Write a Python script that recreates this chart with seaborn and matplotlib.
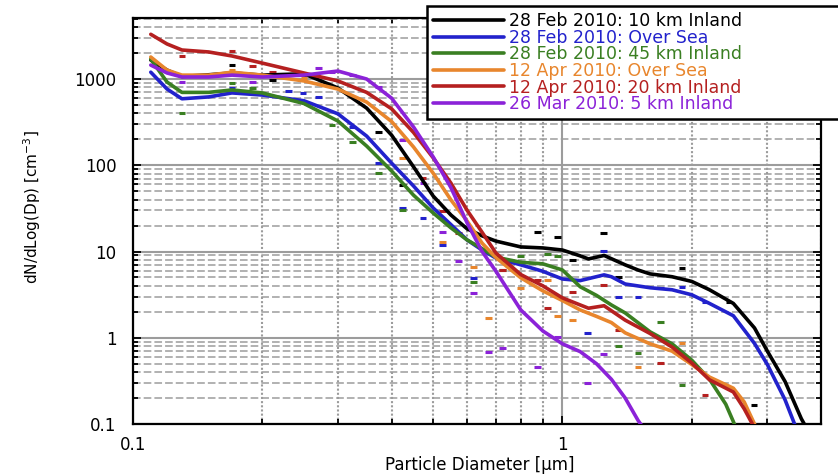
import numpy as np
import pandas as pd
import matplotlib
matplotlib.use("Agg")
import matplotlib.pyplot as plt
from matplotlib.lines import Line2D
from matplotlib.ticker import LogLocator, FixedLocator, FuncFormatter, NullFormatter
import seaborn as sns

# ---------------- data ----------------
labels = ["28 Feb 2010: 10 km Inland", "28 Feb 2010: Over Sea", "28 Feb 2010: 45 km Inland",
          "12 Apr 2010: Over Sea", "12 Apr 2010: 20 km Inland", "26 Mar 2010: 5 km Inland"]
colors = ["#000000", "#2222cc", "#3a7f22", "#e8862d", "#b52020", "#8b22d8"]

# smoothed curves (particle diameter in um, dN/dlogDp in cm^-3)
black_dp = [0.11, 0.12, 0.13, 0.15, 0.17, 0.2, 0.25, 0.3, 0.35, 0.4, 0.45, 0.5, 0.55, 0.6, 0.65, 0.7, 0.8, 0.9, 1.0,
            1.1, 1.15, 1.25, 1.4, 1.5, 1.6, 1.8, 2.0, 2.2, 2.5, 2.8, 3.0, 3.3, 3.6, 3.75]
black_dn = [1660, 1270, 1070, 1120, 1175, 1110, 1150, 787, 460, 224, 96, 44, 26.5, 18.3, 15.2, 13.2, 11.3, 11.0, 10.4,
            8.9, 8.2, 9.0, 7.0, 6.1, 5.5, 5.1, 4.5, 3.6, 2.5, 1.3, 0.70, 0.31, 0.115, 0.08]

blue_dp = [0.11, 0.12, 0.13, 0.15, 0.17, 0.2, 0.25, 0.3, 0.35, 0.4, 0.45, 0.5, 0.55, 0.6, 0.65, 0.7, 0.8, 0.9, 1.0,
           1.1, 1.25, 1.3, 1.4, 1.6, 1.8, 2.0, 2.2, 2.5, 2.8, 3.0, 3.3, 3.5]
blue_dn = [1200, 766, 590, 620, 690, 652, 560, 395, 218, 106, 57.5, 32, 20.5, 13.6, 10.4, 8.4, 7.0, 5.9, 4.8,
           4.6, 5.36, 5.1, 4.2, 3.8, 3.6, 3.15, 2.5, 1.8, 0.86, 0.49, 0.19, 0.09]

green_dp = [0.11, 0.12, 0.13, 0.15, 0.17, 0.2, 0.25, 0.3, 0.35, 0.4, 0.45, 0.5, 0.55, 0.6, 0.65, 0.7, 0.8, 0.9, 1.0,
            1.1, 1.2, 1.3, 1.4, 1.6, 1.8, 2.0, 2.2, 2.4, 2.55]
green_dn = [1700, 923, 700, 700, 747, 690, 520, 326, 167, 86, 45, 28, 18.8, 13.6, 10.8, 8.6, 7.5, 7.2, 6.1,
            3.9, 3.1, 2.4, 1.94, 1.17, 0.85, 0.55, 0.33, 0.17, 0.085]

orange_dp = [0.11, 0.12, 0.13, 0.15, 0.17, 0.2, 0.25, 0.3, 0.35, 0.4, 0.45, 0.5, 0.55, 0.6, 0.65, 0.7, 0.8, 0.9, 1.0,
             1.1, 1.2, 1.3, 1.4, 1.6, 1.8, 2.0, 2.2, 2.5, 2.65, 2.8, 2.9]
orange_dn = [1800, 1270, 1110, 1110, 1200, 1110, 950, 765, 540, 322, 163, 81, 39.6, 22.5, 12.5, 8.5, 4.95, 3.5, 2.7,
             2.1, 1.77, 1.5, 1.14, 0.85, 0.70, 0.49, 0.35, 0.26, 0.18, 0.1, 0.075]

red_dp = [0.11, 0.12, 0.13, 0.15, 0.17, 0.2, 0.25, 0.3, 0.35, 0.4, 0.45, 0.5, 0.55, 0.6, 0.65, 0.7, 0.8, 0.9, 1.0,
          1.1, 1.15, 1.25, 1.4, 1.6, 1.8, 2.0, 2.2, 2.5, 2.65, 2.8]
red_dn = [3300, 2550, 2170, 2060, 1850, 1530, 1175, 950, 700, 452, 240, 122, 62, 30, 16.7, 9.6, 5.4, 4.0, 2.9,
          2.4, 2.2, 2.35, 1.6, 1.12, 0.78, 0.51, 0.325, 0.235, 0.15, 0.09]

purple_dp = [0.11, 0.12, 0.13, 0.15, 0.17, 0.2, 0.25, 0.3, 0.35, 0.4, 0.45, 0.5, 0.55, 0.6, 0.65, 0.7, 0.8, 0.9, 1.0,
             1.1, 1.2, 1.3, 1.4, 1.5, 1.6]
purple_dn = [1450, 1175, 1055, 1055, 1110, 1055, 1110, 1238, 1000, 600, 278, 125, 55, 21.4, 10, 5.9, 2.1, 1.2, 0.85,
             0.69, 0.50, 0.33, 0.2, 0.11, 0.07]

# raw measured points
black_pts_dp = [0.17, 0.211, 0.249, 0.373, 0.424, 0.874, 0.973, 1.055, 1.246, 1.35, 1.9, 2.44, 2.79]
black_pts_dn = [1452, 973, 1112, 243, 59, 16.9, 14.8, 8.0, 16.4, 5.08, 6.46, 2.61, 0.167]
blue_pts_dp = [0.17, 0.23, 0.249, 0.27, 0.324, 0.373, 0.424, 0.474, 0.525, 0.62, 1.144, 1.246, 1.35, 1.5, 1.69, 1.9, 2.15]
blue_pts_dn = [786, 732, 689, 618, 278, 106, 32, 24.5, 11.9, 4.95, 1.14, 10.2, 2.97, 2.97, 3.79, 3.9, 2.61]
green_pts_dp = [0.13, 0.17, 0.19, 0.291, 0.324, 0.373, 0.424, 0.62, 0.725, 0.798, 0.923, 0.973, 1.35, 1.5, 1.69, 1.9]
green_pts_dn = [403, 899, 786, 293, 186, 81, 30.4, 4.44, 6.1, 8.9, 9.4, 8.9, 0.805, 0.668, 1.53, 0.284]
orange_pts_dp = [0.17, 0.25, 0.424, 0.525, 0.62, 0.672, 0.798, 0.923, 0.973, 1.055, 1.5, 1.9]
orange_pts_dn = [1271, 1027, 121, 12.9, 6.6, 1.70, 3.79, 4.69, 1.79, 1.61, 0.46, 0.87]
red_pts_dp = [0.13, 0.17, 0.19, 0.211, 0.474, 0.525, 0.572, 0.725, 0.874, 0.923, 1.055, 1.246, 1.35, 1.69, 2.15]
red_pts_dn = [1862, 2111, 1415, 1215, 71, 29.5, 16.4, 6.1, 4.69, 2.22, 3.4, 4.1, 1.23, 0.511, 0.218]
purple_pts_dp = [0.13, 0.19, 0.27, 0.291, 0.324, 0.373, 0.424, 0.474, 0.525, 0.572, 0.62, 0.672, 0.725, 0.874,
                 0.973, 1.144, 1.246]
purple_pts_dn = [923, 923, 1342, 1205, 1112, 808, 196, 62, 16.9, 7.8, 3.31, 0.687, 0.763, 0.46, 1.02, 0.30, 0.65]

x_ticks = [0.1, 1]
y_ticks = [0.1, 1, 10, 100, 1000]

curve_x = [black_dp, blue_dp, green_dp, orange_dp, red_dp, purple_dp]
curve_y = [black_dn, blue_dn, green_dn, orange_dn, red_dn, purple_dn]
pts_x = [black_pts_dp, blue_pts_dp, green_pts_dp, orange_pts_dp, red_pts_dp, purple_pts_dp]
pts_y = [black_pts_dn, blue_pts_dn, green_pts_dn, orange_pts_dn, red_pts_dn, purple_pts_dn]

curves = pd.concat([pd.DataFrame({"Dp": x, "dN": y, "series": lab})
                    for x, y, lab in zip(curve_x, curve_y, labels)], ignore_index=True)
dots = pd.concat([pd.DataFrame({"Dp": x, "dN": y, "series": lab})
                  for x, y, lab in zip(pts_x, pts_y, labels)], ignore_index=True)

# ---------------- style ----------------
sns.set_theme(style="ticks")
plt.rcParams["font.family"] = ["DejaVu Sans"]

fig = plt.figure(figsize=(8.38, 4.75), dpi=100)
fig.patch.set_facecolor("white")
ax = fig.add_axes([133 / 838, 51 / 475, 688 / 838, 406 / 475])
ax.set_xscale("log")
ax.set_yscale("log")

palette = dict(zip(labels, colors))
sns.scatterplot(data=dots, x="Dp", y="dN", hue="series", hue_order=labels, palette=palette,
                marker="_", s=22, linewidth=2.2, legend=False, ax=ax, zorder=3)
sns.lineplot(data=curves, x="Dp", y="dN", hue="series", hue_order=labels, palette=palette,
             estimator=None, sort=False, lw=2.6, legend=False, ax=ax, zorder=4)

ax.set_xlim(0.1, 4.0)
ax.set_ylim(0.1, 5100)

ax.xaxis.set_major_locator(FixedLocator(x_ticks))
ax.xaxis.set_minor_locator(LogLocator(base=10, subs=np.arange(2, 10), numticks=20))
ax.yaxis.set_major_locator(FixedLocator(y_ticks))
ax.yaxis.set_minor_locator(LogLocator(base=10, subs=np.arange(2, 10), numticks=20))
fmt = FuncFormatter(lambda v, _: f"{v:g}")
ax.xaxis.set_major_formatter(fmt)
ax.yaxis.set_major_formatter(fmt)
ax.xaxis.set_minor_formatter(NullFormatter())
ax.yaxis.set_minor_formatter(NullFormatter())

gcol = "#9c9c9c"
ax.xaxis.grid(True, which="major", color=gcol, lw=1.5, ls="-")
ax.xaxis.grid(True, which="minor", color=gcol, lw=1.5, ls=(0, (1.0, 1.0)))
ax.yaxis.grid(True, which="major", color=gcol, lw=1.5, ls="-")
ax.yaxis.grid(True, which="minor", color=gcol, lw=1.1, ls=(0, (5, 2)))
ax.set_axisbelow(True)

for sp in ax.spines.values():
    sp.set_color("black")
    sp.set_linewidth(1.6)

ax.tick_params(which="both", direction="in", top=True, right=True, color="black", width=1.3)
ax.tick_params(which="major", length=6)
ax.tick_params(which="minor", length=3.5)
ax.tick_params(axis="y", which="major", labelsize=12, pad=12, labelcolor="black")
ax.tick_params(axis="x", which="major", labelsize=12, pad=9, labelcolor="black")

ax.set_xlabel("Particle Diameter [µm]", fontsize=12, color="black")
ax.set_ylabel(r"dN/dLog(Dp) [cm$^{-3}$]", fontsize=11, color="black")
ax.xaxis.set_label_coords(0.504, -0.078)
ax.yaxis.set_label_coords(-0.131, 0.534)

handles = [Line2D([0], [0], color=c, lw=2.6) for c in colors]
leg = ax.legend(handles, labels, loc="upper left",
                bbox_to_anchor=(427 / 838, 0.5, 0.53, 0.4873), bbox_transform=fig.transFigure,
                mode="expand", fontsize=12.5, handlelength=4.1, handletextpad=0.3,
                borderpad=0.35, labelspacing=-0.08, borderaxespad=0.0,
                fancybox=False, framealpha=1.0, edgecolor="black")
leg.get_frame().set_linewidth(1.8)
leg.set_zorder(10)
for t, c in zip(leg.get_texts(), colors):
    t.set_color(c)

fig.savefig("out.png", dpi=100)
